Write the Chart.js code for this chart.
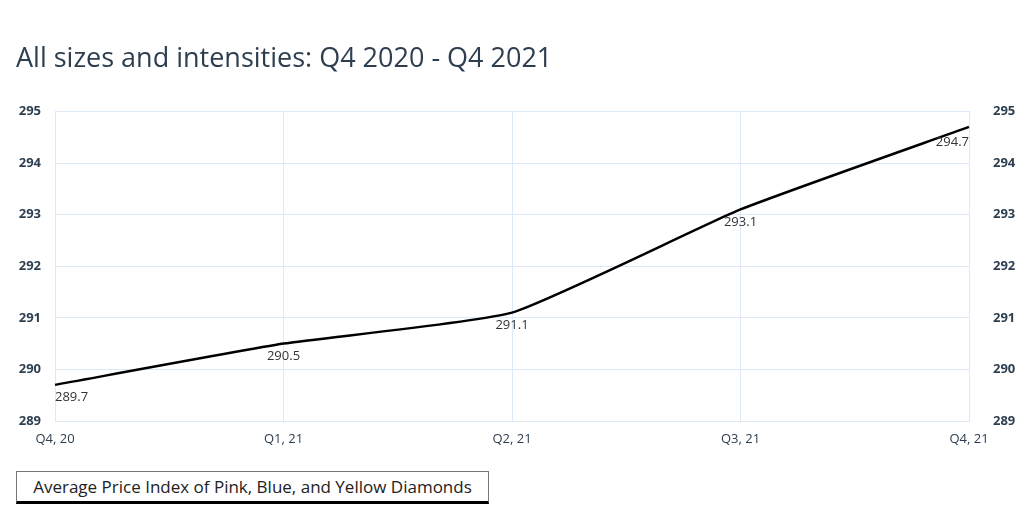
<!DOCTYPE html>
<html>
<head>
<meta charset="utf-8">
<script src="https://cdn.jsdelivr.net/npm/chart.js@4"></script>
<style>
  body { margin: 0; background: #fff; }
  #wrap { position: relative; width: 1024px; height: 512px; }
  #legend {
    position: absolute; left: 16px; top: 471px; width: 471px; height: 29px;
    border: 1px solid #777; border-bottom: 3px solid #000;
    font: 17px "Open Sans", sans-serif; color: #222;
    display: flex; align-items: center; justify-content: center;
  }
</style>
</head>
<body>
<div id="wrap">
  <canvas id="stage" width="1024" height="460"></canvas>
  <div id="legend">Average Price Index of Pink, Blue, and Yellow Diamonds</div>
</div>
<script>
// データ
var quarters = ["Q4, 20", "Q1, 21", "Q2, 21", "Q3, 21", "Q4, 21"];
var priceIndex = [289.7, 290.5, 291.1, 293.1, 294.7];
var yTicks = [289, 290, 291, 292, 293, 294, 295];

var FONT = '"Open Sans", sans-serif';
var TEXT = '#2c3e50';
var GRID = '#dbe9f9';

// 点の下に値を書く
var pointLabels = {
  id: 'pointLabels',
  afterDatasetsDraw: function(chart) {
    var ctx = chart.ctx;
    var meta = chart.getDatasetMeta(0);
    ctx.save();
    ctx.font = '13px ' + FONT;
    ctx.fillStyle = '#333';
    ctx.textBaseline = 'top';
    meta.data.forEach(function(pt, i) {
      var last = meta.data.length - 1;
      ctx.textAlign = i === 0 ? 'left' : (i === last ? 'right' : 'center');
      ctx.fillText(priceIndex[i].toFixed(1), pt.x, pt.y + (i === last ? 9 : 6));
    });
    ctx.restore();
  }
};

var tickOpts = {
  color: TEXT,
  font: { family: FONT, size: 13, weight: 'bold' },
  callback: function(v) { return v; }
};

var canvas = document.getElementById('stage');
var chart = new Chart(canvas, {
  type: 'line',
  data: {
    labels: quarters,
    datasets: [{
      label: 'Average Price Index of Pink, Blue, and Yellow Diamonds',
      data: priceIndex,
      borderColor: '#000',
      borderWidth: 2.5,
      pointRadius: 0,
      tension: 0.15,
      fill: false
    }]
  },
  options: {
    responsive: false,
    animation: false,
    layout: { padding: { left: 16, right: 0, top: 0, bottom: 0 } },
    plugins: {
      legend: { display: false },
      tooltip: { enabled: false },
      title: {
        display: true,
        text: 'All sizes and intensities: Q4 2020 - Q4 2021',
        align: 'start',
        color: TEXT,
        font: { family: FONT, size: 27, weight: 'normal' },
        padding: { top: 43, bottom: 36 }
      }
    },
    scales: {
      x: {
        offset: false,
        grid: { color: GRID, drawTicks: false },
        border: { color: GRID },
        ticks: { color: TEXT, font: { family: FONT, size: 13 }, padding: 10, maxRotation: 0 },
        afterFit: function(s) { s.height = 39; }
      },
      y: {
        position: 'left',
        min: 289, max: 295,
        afterBuildTicks: function(s) { s.ticks = yTicks.map(function(v) { return { value: v }; }); },
        grid: { color: GRID, drawTicks: false },
        border: { color: GRID },
        ticks: Object.assign({ padding: 14 }, tickOpts),
        afterFit: function(s) { s.width = 39; }
      },
      y2: {
        position: 'right',
        min: 289, max: 295,
        afterBuildTicks: function(s) { s.ticks = yTicks.map(function(v) { return { value: v }; }); },
        grid: { display: false },
        border: { color: GRID },
        ticks: Object.assign({ padding: 16 }, tickOpts),
        afterFit: function(s) { s.width = 55; }
      }
    }
  },
  plugins: [pointLabels]
});
</script>
</body>
</html>
